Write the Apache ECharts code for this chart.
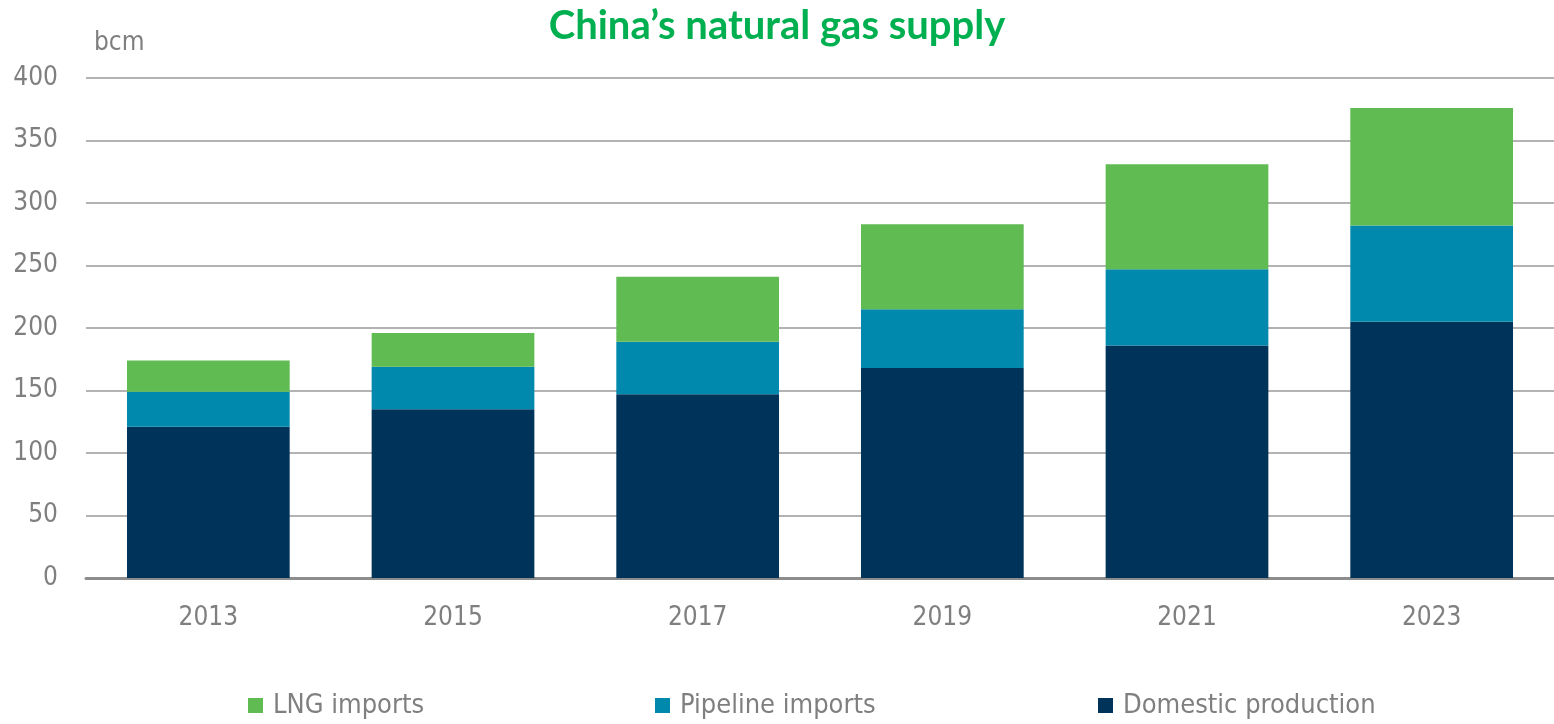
<!DOCTYPE html>
<html>
<head>
<meta charset="utf-8">
<script src="https://cdn.jsdelivr.net/npm/echarts@6/dist/echarts.min.js"></script>
<style>
  html, body { margin: 0; padding: 0; background: #fff; }
  #chart { width: 1554px; height: 724px; }
</style>
</head>
<body>
<div id="chart"></div>
<script>
// years on the x axis
const years = ['2013', '2015', '2017', '2019', '2021', '2023'];
// bcm
const domestic = [121, 135, 147, 168, 186, 205];
const pipeline = [28, 34, 42, 47, 61, 77];
const lng = [25, 27, 52, 68, 84, 94];

const yTicks = [0, 50, 100, 150, 200, 250, 300, 350, 400];

const narrow = "'Liberation Sans Narrow', 'DejaVu Sans Condensed', 'Liberation Sans', sans-serif";
const grey = '#7f7f7f';

const chart = echarts.init(document.getElementById('chart'));

function legendAt(name, left) {
  return {
    data: [name],
    left: left,
    top: 692,
    padding: 0,
    icon: 'rect',
    itemWidth: 15,
    itemHeight: 15,
    itemGap: 0,
    textStyle: { fontFamily: narrow, fontSize: 27, color: grey, padding: [0, 0, 0, 5] },
    selectedMode: false
  };
}

chart.setOption({
  animation: false,
  title: {
    text: 'China\u2019s natural gas supply',
    left: 'center',
    top: 1,
    textStyle: { fontFamily: "Lato, 'Open Sans', sans-serif", fontWeight: 'bold', fontSize: 40, color: '#00b050' }
  },
  legend: [
    legendAt('LNG imports', 248),
    legendAt('Pipeline imports', 655),
    legendAt('Domestic production', 1098)
  ],
  grid: { left: 86, right: 0, top: 78, bottom: 146 },
  xAxis: {
    type: 'category',
    data: years,
    axisTick: { show: false },
    axisLine: { lineStyle: { color: '#8c8c8c', width: 3 } },
    axisLabel: { fontFamily: narrow, fontSize: 26, color: grey, margin: 27 }
  },
  yAxis: {
    type: 'value',
    min: 0,
    max: 400,
    interval: 50,
    name: 'bcm',
    nameLocation: 'end',
    nameGap: 22,
    nameTextStyle: { fontFamily: narrow, fontSize: 26, color: grey, align: 'left', padding: [0, 0, 0, 8] },
    axisLine: { show: false },
    axisTick: { show: false },
    axisLabel: {
      fontFamily: narrow, fontSize: 26, color: grey, margin: 28,
      formatter: v => (yTicks.indexOf(v) >= 0 ? String(v) : '')
    },
    splitLine: { lineStyle: { color: '#b3b3b3', width: 2 } }
  },
  series: [
    { name: 'Domestic production', type: 'bar', stack: 'gas', data: domestic, barWidth: '66.5%',
      itemStyle: { color: '#00335a' } },
    { name: 'Pipeline imports', type: 'bar', stack: 'gas', data: pipeline,
      itemStyle: { color: '#0089ad' } },
    { name: 'LNG imports', type: 'bar', stack: 'gas', data: lng,
      itemStyle: { color: '#5fbb52' } }
  ]
});
</script>
</body>
</html>
